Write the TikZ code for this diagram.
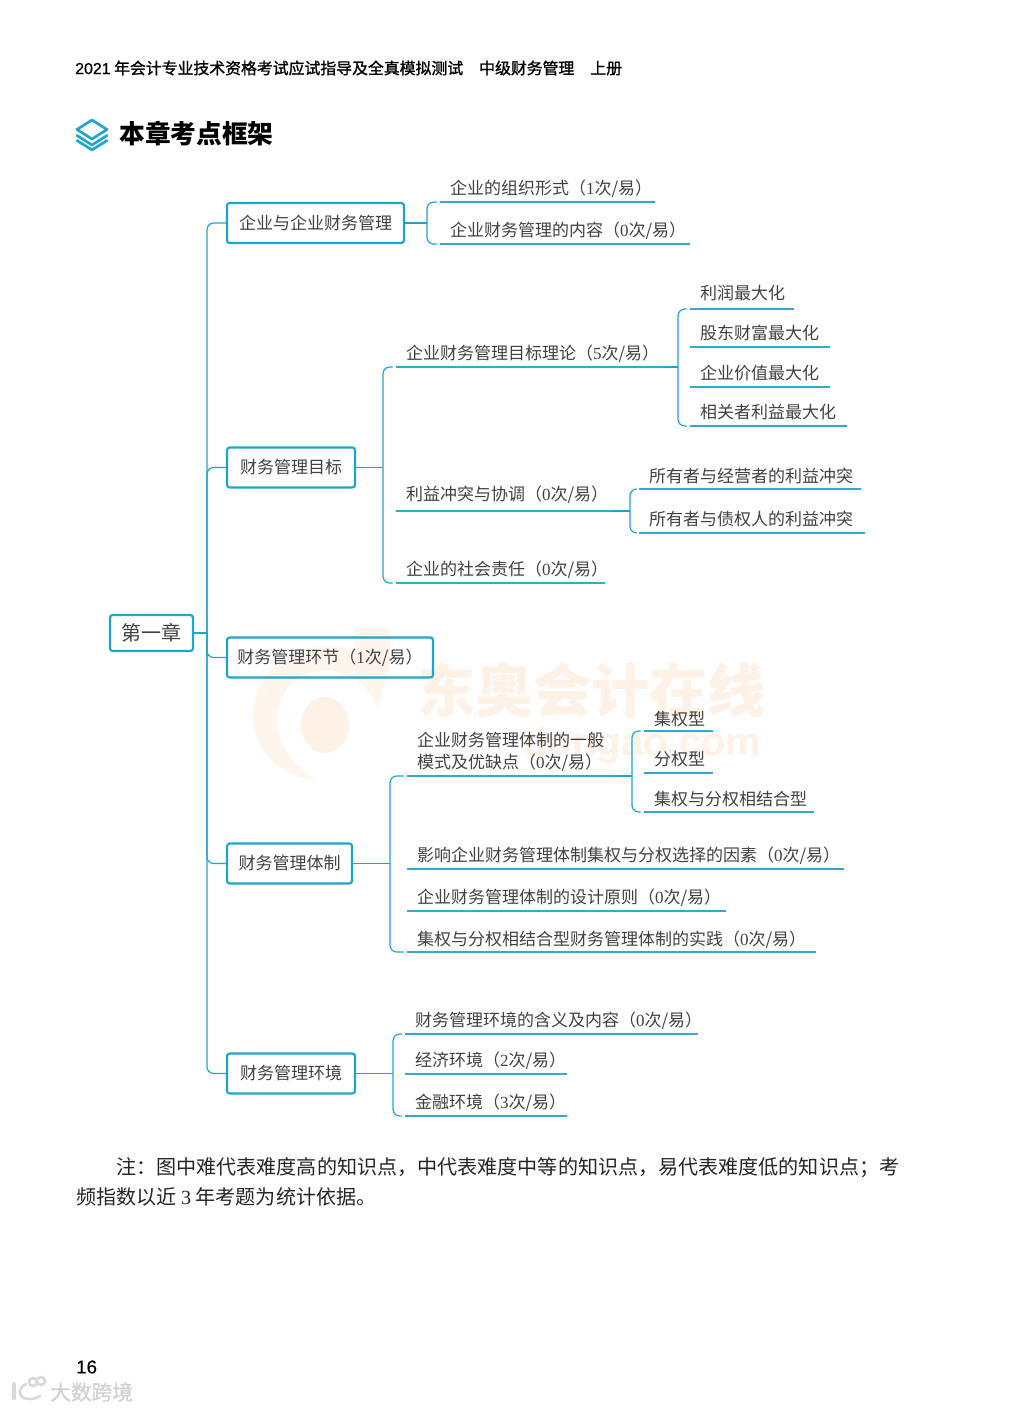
\documentclass[tikz,border=0pt]{standalone}
\usepackage{fontspec}
\usepackage{xcolor}
\usetikzlibrary{positioning}
\setmainfont{Liberation Sans}
\newfontfamily\cjk{Noto Sans CJK SC}
\newfontfamily\cjkhead[FakeBold=1.2]{Noto Sans CJK SC}
\newfontfamily\numhead[FakeBold=0.5]{Liberation Sans}
\newfontfamily\numfont{Liberation Serif}
\definecolor{linha}{RGB}{30,165,205}
\definecolor{traco}{RGB}{50,170,205}
\definecolor{texto}{RGB}{65,65,65}
\definecolor{marca}{RGB}{254,241,230}
\newcommand{\freq}[1]{（{\numfont #1}次/易）}
\tikzset{
    topicbox/.style={draw=linha, line width=1.6pt, rounded corners=2pt, outer sep=0pt,
        minimum width=#1*0.75pt, minimum height=30pt, inner sep=0pt, text=texto,
        font=\cjk\fontsize{12.75}{16}\selectfont},
    leaf/.style={anchor=south west, outer sep=0pt, inner xsep=7.5pt, inner ysep=3.45pt,
        text width=(#1-20)*0.75pt, align=left, text height=9pt, text depth=2.25pt, text=texto,
        font=\cjk\fontsize{12.75}{16.5}\selectfont},
    uline/.style={traco, line width=1.3pt},
    link/.style={linha, line width=0.9pt, rounded corners=5pt},
}
\begin{document}
\begin{tikzpicture}[x=0.75pt, y=-0.75pt]
    \useasboundingbox (0,0) rectangle (1020,1410);
    \fill[white] (0,0) rectangle (1020,1410);

    % marca de fundo
    \fill[marca, opacity=0.7] (388,668) .. controls (360,640) and (300,640) .. (275,665)
        .. controls (238,700) and (245,770) .. (318,782)
        .. controls (280,760) and (268,722) .. (285,692)
        .. controls (305,660) and (360,662) .. (378,708) -- cycle;
    \fill[marca, opacity=0.7] (355,628) rectangle (390,670);
    \fill[marca] (325,725) ellipse (24 and 28);
    \node[text=marca, font=\cjk\bfseries\fontsize{43.5}{44}\selectfont] (wmcn) at (591,690) {东奥会计在线};
    \node[text=marca, anchor=east, font=\bfseries\fontsize{30}{30}\selectfont] (wmen) at (766,745) {dongao.com};

    % cabecalho
    \node[anchor=west, inner sep=0pt, font=\cjkhead\fontsize{11.9}{14}\selectfont] (cab) at (75,68)
        {{\numhead 2021} 年会计专业技术资格考试应试指导及全真模拟测试\hspace{12pt}中级财务管理\hspace{12pt}上册};
    \begin{scope}[linha, line width=2pt, line join=round, line cap=round]
        \draw (92,120) -- (107,129.5) -- (92,139) -- (77,129.5) -- cycle;
        \draw (77,135.5) -- (92,145) -- (107,135.5);
        \draw (77,140.5) -- (92,150) -- (107,140.5);
    \end{scope}
    \node[anchor=west, inner sep=0pt, font=\cjk\bfseries\fontsize{19.3}{22}\selectfont] (titulo) at (119,134) {本章考点框架};

    % caixas
    \node[topicbox=83, minimum height=27pt, font=\cjk\fontsize{15}{18}\selectfont] (cap) at (151.5,633) {第一章};
    \node[topicbox=177] (b1) at (315.5,223) {企业与企业财务管理};
    \node[topicbox=128] (b2) at (291,467.5) {财务管理目标};
    \node[topicbox=206] (b3) at (330,657.5) {财务管理环节\freq{1}};
    \node[topicbox=125] (b4) at (289.5,863.5) {财务管理体制};
    \node[topicbox=128] (b5) at (291,1073.5) {财务管理环境};

    % folhas
    \node[leaf=215] (a1) at (440,202) {企业的组织形式\freq{1}};
    \node[leaf=250] (a2) at (440,244) {企业财务管理的内容\freq{0}};

    \node[leaf=269] (a3) at (396,367) {企业财务管理目标理论\freq{5}};
    \node[leaf=216, text depth=4.25pt] (a4) at (396,511) {利益冲突与协调\freq{0}};
    \node[leaf=209] (a5) at (396,583) {企业的社会责任\freq{0}};
    \node[leaf=104, text depth=3.75pt] (c1) at (690,309) {利润最大化};
    \node[leaf=140] (c2) at (690,347) {股东财富最大化};
    \node[leaf=140] (c3) at (690,387) {企业价值最大化};
    \node[leaf=157] (c4) at (690,426) {相关者利益最大化};
    \node[leaf=222, text depth=1.5pt] (d1) at (639,489) {所有者与经营者的利益冲突};
    \node[leaf=226] (d2) at (639,533) {所有者与债权人的利益冲突};

    \node[leaf=212, text height=, text depth=, inner ysep=3pt] (e1) at (407,776) {企业财务管理体制的一般\\模式及优缺点\freq{0}};
    \node[leaf=437] (e2) at (407,869) {影响企业财务管理体制集权与分权选择的因素\freq{0}};
    \node[leaf=319] (e3) at (407,911) {企业财务管理体制的设计原则\freq{0}};
    \node[leaf=409, text depth=1.5pt] (e4) at (407,952) {集权与分权相结合型财务管理体制的实践\freq{0}};
    \node[leaf=69, text depth=0.75pt] (f1) at (644,731) {集权型};
    \node[leaf=69] (f2) at (644,773) {分权型};
    \node[leaf=170, text depth=1.5pt] (f3) at (644,812) {集权与分权相结合型};

    \node[leaf=293] (g1) at (405,1034) {财务管理环境的含义及内容\freq{0}};
    \node[leaf=162] (g2) at (405,1074) {经济环境\freq{2}};
    \node[leaf=162] (g3) at (405,1116) {金融环境\freq{3}};

    \foreach \n in {a1,a2,a3,a4,a5,c1,c2,c3,c4,d1,d2,e1,e2,e3,e4,f1,f2,f3,g1,g2,g3} {
        \draw[uline] (\n.south west) -- (\n.south east);
    }

    % juncoes
    \coordinate (j0) at (207,633);
    \coordinate (j1) at (427,223);
    \coordinate (j2) at (383,467.5);
    \coordinate (j3) at (678,367);
    \coordinate (j4) at (630,511);
    \coordinate (j5) at (390,863.5);
    \coordinate (j6) at (632,776);
    \coordinate (j7) at (393,1073.5);

    \draw[link] (cap.east) -- (j0);
    \foreach \b in {b1,b2,b3,b4,b5} {
        \draw[link] (\b.west) -| (j0);
    }
    \draw[link] (b1.east) -- (j1);
    \draw[link] (b2.east) -- (j2);
    \draw[link] (a3.south east) -- (j3);
    \draw[link] (a4.south east) -- (j4);
    \draw[link] (b4.east) -- (j5);
    \draw[link] (e1.south east) -- (j6);
    \draw[link] (b5.east) -- (j7);
    \foreach \n/\j in {a1/j1,a2/j1,a3/j2,a5/j2,c1/j3,c4/j3,d1/j4,d2/j4,e1/j5,e4/j5,f1/j6,f3/j6,g1/j7,g3/j7} {
        \draw[link, shorten <=2.5pt] (\n.south west) -| (\j);
    }

    % nota
    \node[anchor=west, inner sep=0pt, align=left, font=\cjk\fontsize{15.06}{22.5}\selectfont, text=black!85] (nota) at (76,1182)
        {\hspace*{30pt}注：图中难代表难度高的知识点，中代表难度中等的知识点，易代表难度低的知识点；考\\
        频指数以近 {\numfont 3} 年考题为统计依据。};

    \node[anchor=west, inner sep=0pt, font=\numhead\fontsize{14}{16}\selectfont] (pag) at (76,1367) {16};

    % marca do rodape
    \begin{scope}[gray!30, line width=2pt, line cap=round]
        \draw[line width=3pt] (14,1384) -- (14,1398);
        \draw (26,1384) .. controls (18,1388) and (18,1395) .. (24,1398) .. controls (30,1400) and (36,1399) .. (40,1396);
        \draw (33,1382) circle (4);
        \draw (41,1381) circle (4);
    \end{scope}
    \node[anchor=west, inner sep=0pt, text=gray!35, font=\cjkhead\fontsize{15.5}{18}\selectfont] (wmrod) at (50,1392) {大数跨境};
\end{tikzpicture}
\end{document}
